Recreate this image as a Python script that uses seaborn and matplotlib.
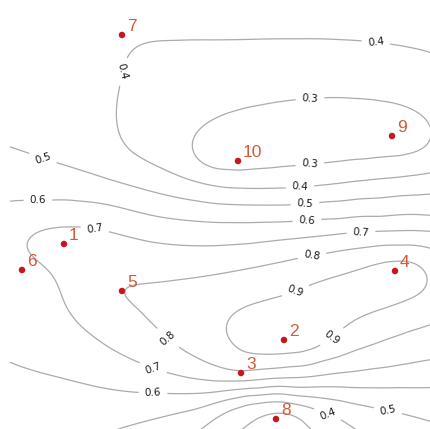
import numpy as np
import pandas as pd
import matplotlib
matplotlib.use("Agg")
import matplotlib.pyplot as plt
import seaborn as sns

# ---------------------------------------------------------------------------
# Sampling sites (map units, y grows southward) and their measured values
# ---------------------------------------------------------------------------
site_id = ["1", "2", "3", "4", "5", "6", "7", "8", "9", "10"]
site_x = [64, 284, 241, 395, 122, 22, 122, 276, 392, 238]
site_y = [244, 340, 373, 271, 291, 270, 35, 419, 136, 161]
site_val = [0.73, 0.95, 0.80, 0.93, 0.80, 0.66, 0.41, 0.27, 0.26, 0.27]

# ---------------------------------------------------------------------------
# Surveyed isoline traces (x, y) per level
# ---------------------------------------------------------------------------
iso_03_north = [(193, 150), (196, 138), (203, 128), (215, 120), (235, 112), (260, 106),
                (280, 102), (298, 100), (325, 98), (355, 99), (383, 102), (405, 107),
                (420, 115), (428, 124), (431, 135), (428, 146), (418, 153), (400, 157),
                (367, 160), (340, 162), (320, 164), (300, 166), (270, 169), (240, 172),
                (215, 172), (202, 166), (195, 158)]
iso_03_south = [(245, 432), (252, 424), (260, 418), (270, 414), (280, 412), (292, 413),
                (300, 418), (305, 424), (308, 432)]

iso_04_north = [(445, 58), (431, 53), (410, 48), (390, 45), (368, 42), (340, 40), (300, 39),
                (260, 39), (215, 40), (175, 41), (150, 42), (137, 46), (130, 52), (126, 60),
                (123, 73), (120, 90), (117, 110), (118, 125), (122, 140), (130, 152),
                (150, 163), (168, 171), (183, 177), (200, 181), (215, 184), (240, 187),
                (270, 188), (300, 187), (325, 185), (355, 181), (380, 178), (410, 175),
                (431, 172), (445, 171)]
iso_04_south = [(200, 432), (207, 425), (215, 418), (230, 408), (248, 401), (265, 399),
                (282, 400), (305, 405), (328, 413), (342, 420), (350, 425), (355, 432)]

iso_05_north = [(5, 146), (25, 152), (43, 158), (57, 163), (80, 170), (110, 180), (150, 191),
                (185, 199), (215, 204), (260, 205), (305, 204), (325, 201), (360, 198),
                (400, 195), (431, 193), (445, 192)]
iso_05_south = [(110, 432), (150, 420), (180, 412), (215, 403), (240, 398), (265, 396),
                (290, 396), (315, 397), (340, 400), (365, 405), (388, 410), (415, 417),
                (431, 422), (445, 425)]

iso_06_north = [(5, 202), (38, 202), (50, 201), (80, 202), (110, 205), (130, 210), (150, 215),
                (175, 219), (200, 221), (230, 222), (260, 222), (303, 221), (340, 220),
                (380, 218), (431, 217), (445, 217)]
iso_06_south = [(5, 360), (33, 370), (60, 377), (83, 383), (110, 389), (133, 392), (152, 393),
                (167, 393), (190, 393), (215, 392), (260, 390), (300, 389), (350, 388),
                (400, 387), (431, 387), (445, 387)]

iso_07 = [(445, 231), (431, 231), (400, 231), (373, 231), (360, 232), (343, 233), (310, 237),
          (280, 240), (250, 244), (215, 246), (200, 246), (175, 245), (150, 242), (125, 236),
          (103, 230), (95, 228), (80, 226), (60, 226), (45, 228), (33, 233), (27, 240),
          (25, 247), (28, 254), (37, 261), (50, 270), (57, 280), (61, 292), (65, 305),
          (72, 316), (80, 325), (95, 337), (110, 348), (125, 356), (140, 363), (153, 368),
          (167, 373), (190, 379), (215, 382), (250, 381), (282, 379), (321, 376), (355, 372),
          (388, 368), (410, 364), (431, 360), (445, 358)]

iso_08 = [(445, 250), (431, 250), (400, 247), (367, 248), (345, 250), (327, 253), (312, 256),
          (297, 258), (270, 264), (250, 268), (225, 273), (200, 277), (175, 280), (150, 283),
          (137, 285), (128, 288), (119, 292), (125, 297), (132, 303), (140, 310), (147, 318),
          (157, 328), (167, 337), (180, 348), (197, 357), (215, 365), (228, 370), (258, 369),
          (290, 365), (321, 359), (354, 350), (388, 338), (410, 330), (431, 323), (445, 320)]

iso_09 = [(227, 328), (230, 318), (236, 312), (243, 308), (260, 303), (280, 298), (297, 292),
          (310, 285), (330, 278), (350, 272), (370, 265), (387, 260), (405, 258), (417, 262),
          (424, 270), (427, 280), (425, 288), (421, 293), (405, 300), (388, 307), (370, 313),
          (354, 320), (340, 330), (333, 337), (325, 344), (315, 350), (300, 354), (282, 355),
          (265, 355), (248, 353), (236, 345), (229, 337)]

# Additional field readings away from the isolines
extra_x = [10, 60, 10, 250, 400, 10, 60, 440]
extra_y = [20, 100, 80, 5, 5, 432, 432, 285]
extra_val = [0.46, 0.45, 0.47, 0.44, 0.43, 0.55, 0.53, 0.87]

levels = [0.3, 0.4, 0.5, 0.6, 0.7, 0.8, 0.9]

# Where each isoline carries its value label
label_spots = [(376, 42), (124, 72), (300, 187), (328, 413),
               (310, 98), (310, 166),
               (43, 158), (305, 204), (388, 410),
               (38, 202), (307, 221), (153, 393),
               (95, 228), (361, 232), (153, 368),
               (312, 256), (168, 338),
               (296, 292), (332, 337)]

# ---------------------------------------------------------------------------
# Assemble all readings and fit a smooth thin-plate surface through them
# ---------------------------------------------------------------------------
traces = [(0.3, iso_03_north), (0.3, iso_03_south), (0.4, iso_04_north), (0.4, iso_04_south),
          (0.5, iso_05_north), (0.5, iso_05_south), (0.6, iso_06_north), (0.6, iso_06_south),
          (0.7, iso_07), (0.8, iso_08), (0.9, iso_09)]
rows = []
for lev, pts in traces:
    for x, y in pts:
        rows.append((x, y, lev))
rows += list(zip(site_x, site_y, site_val))
rows += list(zip(extra_x, extra_y, extra_val))
readings = pd.DataFrame(rows, columns=["x", "y", "value"])


def tps_kernel(r):
    return np.where(r > 0, r * r * np.log(np.maximum(r, 1e-12)), 0.0)


def fit_surface(df, gx, gy, smooth=2.5e-3, scale=431.0):
    P = df[["x", "y"]].to_numpy(float) / scale
    v = df["value"].to_numpy(float)
    n = len(P)
    d = np.hypot(P[:, None, 0] - P[None, :, 0], P[:, None, 1] - P[None, :, 1])
    A = np.zeros((n + 3, n + 3))
    A[:n, :n] = tps_kernel(d) + smooth * np.eye(n)
    A[:n, n] = 1.0
    A[:n, n + 1:] = P
    A[n, :n] = 1.0
    A[n + 1:, :n] = P.T
    sol = np.linalg.solve(A, np.concatenate([v, np.zeros(3)]))
    w, a = sol[:n], sol[n:]
    G = np.column_stack([gx.ravel(), gy.ravel()]) / scale
    z = np.empty(len(G))
    step = 4000
    for i in range(0, len(G), step):
        g = G[i:i + step]
        r = np.hypot(g[:, None, 0] - P[None, :, 0], g[:, None, 1] - P[None, :, 1])
        z[i:i + step] = tps_kernel(r) @ w + a[0] + g @ a[1:]
    return z.reshape(gx.shape)


gx, gy = np.meshgrid(np.linspace(10, 445, 220), np.linspace(0, 435, 220))
gz = fit_surface(readings, gx, gy)

# ---------------------------------------------------------------------------
# Draw
# ---------------------------------------------------------------------------
sns.set_theme(style="white")
plt.rcParams["font.family"] = ["DejaVu Sans"]

fig = plt.figure(figsize=(4.31, 4.29), dpi=100)
ax = fig.add_axes([0, 0, 1, 1])

cs = ax.contour(gx, gy, gz, levels=levels, colors="#ababab", linewidths=0.9)
ax.clabel(cs, levels=levels, manual=label_spots, inline=True, inline_spacing=6,
          fmt="%.1f", fontsize=7.5, colors="#1a1a1a")

sites = pd.DataFrame({"site": site_id, "x": site_x, "y": site_y, "value": site_val})
sns.scatterplot(data=sites, x="x", y="y", color="#c8161e", s=22, edgecolor="none",
                legend=False, ax=ax, zorder=4)
for _, row in sites.iterrows():
    ax.annotate(row["site"], (row["x"], row["y"]), xytext=(3.6, 2.6),
                textcoords="offset points", ha="left", va="baseline",
                color="#d6583a", fontsize=12.5, family=["Liberation Sans", "DejaVu Sans"],
                zorder=5)

ax.set_xlim(0, 431)
ax.set_ylim(429, 0)
ax.set_axis_off()

fig.savefig("out.png", dpi=100, facecolor="white")
